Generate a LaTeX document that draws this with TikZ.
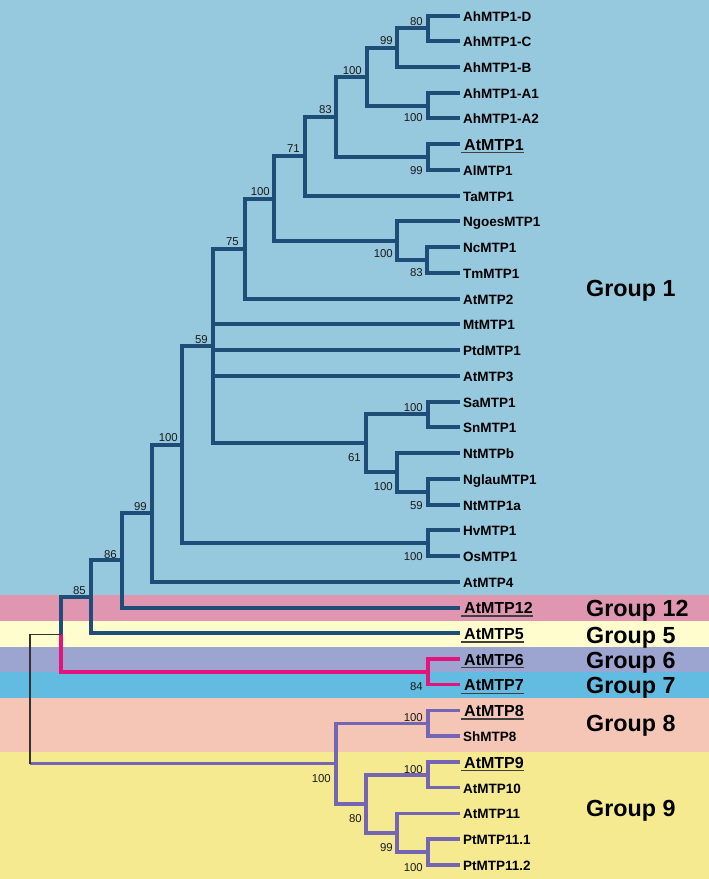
\documentclass[tikz,border=0pt]{standalone}
\usepackage{fontspec}
\setmainfont{Liberation Sans}
\definecolor{bgA}{HTML}{96C8DE}
\definecolor{bgPink}{HTML}{E096B0}
\definecolor{bgLY}{HTML}{FFFCCD}
\definecolor{bgLav}{HTML}{9BA5CF}
\definecolor{bgCyan}{HTML}{62BBE0}
\definecolor{bgSal}{HTML}{F5C6B5}
\definecolor{bgYel}{HTML}{F6EA91}
\definecolor{lnBlue}{HTML}{1E4E78}
\definecolor{lnPink}{HTML}{E4147D}
\definecolor{lnPurp}{HTML}{7466B5}
\definecolor{txtDark}{HTML}{1A1A1A}
\newcommand{\ulab}[1]{\leavevmode\vtop{\hbox{\kern3bp #1}\kern1.6bp{\color{black!75}\hrule height 1.3bp}}}
\tikzset{
  blueline/.style={draw=lnBlue, line width=4bp, line join=miter},
  pinkline/.style={draw=lnPink, line width=3.5bp, line join=miter},
  purpline/.style={draw=lnPurp, line width=3.5bp, line join=miter},
  rootline/.style={draw=black!80, line width=1.2bp},
  leaf/.style={anchor=west, inner sep=0pt, xshift=3bp, yshift=-0.7bp, text=black,
    font=\bfseries\fontsize{13.5bp}{15bp}\selectfont, text height=9.6bp, text depth=0pt},
  uleaf/.style={anchor=west, inner sep=0pt, xshift=1bp, yshift=-0.5bp, text=black,
    font=\bfseries\fontsize{16bp}{18bp}\selectfont, text height=11.4bp, text depth=0pt},
  boot/.style={anchor=east, inner sep=0pt, text=txtDark,
    font=\fontsize{11.4bp}{13bp}\selectfont, text height=8.2bp, text depth=0pt},
  grp/.style={anchor=west, inner sep=0pt, text=black,
    font=\bfseries\fontsize{23.3bp}{26bp}\selectfont, text height=16.7bp, text depth=0pt},
}
\begin{document}
\begin{tikzpicture}[x=1bp, y=-1bp]
% background bands
\fill[bgA] (0,0) rectangle (709,595);
\fill[bgPink] (0,595) rectangle (709,621);
\fill[bgLY] (0,621) rectangle (709,647);
\fill[bgLav] (0,647) rectangle (709,672.3);
\fill[bgCyan] (0,672.3) rectangle (709,697.5);
\fill[bgSal] (0,697.5) rectangle (709,751.7);
\fill[bgYel] (0,751.7) rectangle (709,879);
\useasboundingbox (0,0) rectangle (709,879);

% leaf tips
\coordinate (t0) at (460,15.5);
\coordinate (t1) at (460,41.24);
\coordinate (t2) at (460,66.98);
\coordinate (t3) at (460,92.72);
\coordinate (t4) at (460,118.46);
\coordinate (t5) at (460,144.2);
\coordinate (t6) at (460,169.94);
\coordinate (t7) at (460,195.68);
\coordinate (t8) at (460,221.42);
\coordinate (t9) at (460,247.16);
\coordinate (t10) at (460,272.9);
\coordinate (t11) at (460,298.64);
\coordinate (t12) at (460,324.38);
\coordinate (t13) at (460,350.12);
\coordinate (t14) at (460,375.86);
\coordinate (t15) at (460,401.6);
\coordinate (t16) at (460,427.34);
\coordinate (t17) at (460,453.08);
\coordinate (t18) at (460,478.82);
\coordinate (t19) at (460,504.56);
\coordinate (t20) at (460,530.3);
\coordinate (t21) at (460,556.04);
\coordinate (t22) at (460,581.78);
\coordinate (t23) at (460,607.52);
\coordinate (t24) at (460,633.26);
\coordinate (t25) at (460,659.0);
\coordinate (t26) at (460,684.74);
\coordinate (t27) at (460,710.48);
\coordinate (t28) at (460,736.22);
\coordinate (t29) at (460,761.96);
\coordinate (t30) at (460,787.7);
\coordinate (t31) at (460,813.44);
\coordinate (t32) at (460,839.18);
\coordinate (t33) at (460,864.92);

% internal nodes
\coordinate (nDC) at (428,28.37);
\coordinate (n99a) at (397,47.675);
\coordinate (nA12) at (428,105.59);
\coordinate (nAh) at (367,76.63);
\coordinate (nAtAl) at (428,157.07);
\coordinate (n83) at (336,116.85);
\coordinate (n71) at (305,156.27);
\coordinate (nNcTm) at (427,260.03);
\coordinate (nNg) at (397,240.73);
\coordinate (n100b) at (274,198.5);
\coordinate (n75) at (245,248.57);
\coordinate (nSaSn) at (428,414.47);
\coordinate (nNgNt) at (428,491.69);
\coordinate (nNt) at (397,472.39);
\coordinate (n61) at (366,443.43);
\coordinate (n59) at (213,346.0);
\coordinate (nHvOs) at (428,543.17);
\coordinate (n100c) at (182,444.59);
\coordinate (n99b) at (152,513.18);
\coordinate (n86) at (122,560.35);
\coordinate (n85) at (91,596.81);
\coordinate (n67) at (428,671.87);
\coordinate (nBP) at (61,634.34);
\coordinate (n8) at (428,723.35);
\coordinate (n910) at (428,774.83);
\coordinate (nPt) at (428,852.05);
\coordinate (n99c) at (397,832.75);
\coordinate (n80) at (366,803.79);
\coordinate (nP) at (336,763.57);
\coordinate (root) at (30,700);

% blue clade
\draw[blueline] (nDC) |- (t0);
\draw[blueline] (nDC) |- (t1);
\draw[blueline] (n99a) |- (nDC);
\draw[blueline] (n99a) |- (t2);
\draw[blueline] (nA12) |- (t3);
\draw[blueline] (nA12) |- (t4);
\draw[blueline] (nAh) |- (n99a);
\draw[blueline] (nAh) |- (nA12);
\draw[blueline] (nAtAl) |- (t5);
\draw[blueline] (nAtAl) |- (t6);
\draw[blueline] (n83) |- (nAh);
\draw[blueline] (n83) |- (nAtAl);
\draw[blueline] (n71) |- (n83);
\draw[blueline] (n71) |- (t7);
\draw[blueline] (nNcTm) |- (t9);
\draw[blueline] (nNcTm) |- (t10);
\draw[blueline] (nNg) |- (t8);
\draw[blueline] (nNg) |- (nNcTm);
\draw[blueline] (n100b) |- (n71);
\draw[blueline] (n100b) |- (nNg);
\draw[blueline] (n75) |- (n100b);
\draw[blueline] (n75) |- (t11);
\draw[blueline] (nSaSn) |- (t15);
\draw[blueline] (nSaSn) |- (t16);
\draw[blueline] (nNgNt) |- (t18);
\draw[blueline] (nNgNt) |- (t19);
\draw[blueline] (nNt) |- (t17);
\draw[blueline] (nNt) |- (nNgNt);
\draw[blueline] (n61) |- (nSaSn);
\draw[blueline] (n61) |- (nNt);
\draw[blueline] (n59) |- (n75);
\draw[blueline] (n59) |- (t12);
\draw[blueline] (n59) |- (t13);
\draw[blueline] (n59) |- (t14);
\draw[blueline] (n59) |- (n61);
\draw[blueline] (nHvOs) |- (t20);
\draw[blueline] (nHvOs) |- (t21);
\draw[blueline] (n100c) |- (n59);
\draw[blueline] (n100c) |- (nHvOs);
\draw[blueline] (n99b) |- (n100c);
\draw[blueline] (n99b) |- (t22);
\draw[blueline] (n86) |- (n99b);
\draw[blueline] (n86) |- (t23);
\draw[blueline] (n85) |- (n86);
\draw[blueline] (n85) |- (t24);
\draw[blueline] (nBP) |- (n85);
% pink clade
\draw[pinkline] (n67) |- (t25);
\draw[pinkline] (n67) |- (t26);
\draw[pinkline] (nBP) |- (n67);
% purple clade
\draw[purpline] (n8) |- (t27);
\draw[purpline] (n8) |- (t28);
\draw[purpline] (n910) |- (t29);
\draw[purpline] (n910) |- (t30);
\draw[purpline] (nPt) |- (t32);
\draw[purpline] (nPt) |- (t33);
\draw[purpline] (n99c) |- (t31);
\draw[purpline] (n99c) |- (nPt);
\draw[purpline] (n80) |- (n910);
\draw[purpline] (n80) |- (n99c);
\draw[purpline] (nP) |- (n8);
\draw[purpline] (nP) |- (n80);
% root
\draw[purpline] (root |- nP) -- (nP);
\draw[rootline] (root) |- (nBP);
\draw[rootline] (root) |- ([xshift=0.5bp]root |- nP);

% leaf labels
\node[leaf] (l0) at (t0) {AhMTP1-D};
\node[leaf] (l1) at (t1) {AhMTP1-C};
\node[leaf] (l2) at (t2) {AhMTP1-B};
\node[leaf] (l3) at (t3) {AhMTP1-A1};
\node[leaf] (l4) at (t4) {AhMTP1-A2};
\node[uleaf] (l5) at (t5) {\ulab{AtMTP1}};
\node[leaf] (l6) at (t6) {AlMTP1};
\node[leaf] (l7) at (t7) {TaMTP1};
\node[leaf] (l8) at (t8) {NgoesMTP1};
\node[leaf] (l9) at (t9) {NcMTP1};
\node[leaf] (l10) at (t10) {TmMTP1};
\node[leaf] (l11) at (t11) {AtMTP2};
\node[leaf] (l12) at (t12) {MtMTP1};
\node[leaf] (l13) at (t13) {PtdMTP1};
\node[leaf] (l14) at (t14) {AtMTP3};
\node[leaf] (l15) at (t15) {SaMTP1};
\node[leaf] (l16) at (t16) {SnMTP1};
\node[leaf] (l17) at (t17) {NtMTPb};
\node[leaf] (l18) at (t18) {NglauMTP1};
\node[leaf] (l19) at (t19) {NtMTP1a};
\node[leaf] (l20) at (t20) {HvMTP1};
\node[leaf] (l21) at (t21) {OsMTP1};
\node[leaf] (l22) at (t22) {AtMTP4};
\node[uleaf] (l23) at (t23) {\ulab{AtMTP12}};
\node[uleaf] (l24) at (t24) {\ulab{AtMTP5}};
\node[uleaf] (l25) at (t25) {\ulab{AtMTP6}};
\node[uleaf] (l26) at (t26) {\ulab{AtMTP7}};
\node[uleaf] (l27) at (t27) {\ulab{AtMTP8}};
\node[leaf] (l28) at (t28) {ShMTP8};
\node[uleaf] (l29) at (t29) {\ulab{AtMTP9}};
\node[leaf] (l30) at (t30) {AtMTP10};
\node[leaf] (l31) at (t31) {AtMTP11};
\node[leaf] (l32) at (t32) {PtMTP11.1};
\node[leaf] (l33) at (t33) {PtMTP11.2};

% bootstrap values
\node[boot] (b1) at (423,21) {80};
\node[boot] (b2) at (393,40.5) {99};
\node[boot] (b3) at (362,70) {100};
\node[boot] (b4) at (423,117.5) {100};
\node[boot] (b5) at (332,109) {83};
\node[boot] (b6) at (423,170) {99};
\node[boot] (b7) at (300,148) {71};
\node[boot] (b8) at (270,191) {100};
\node[boot] (b9) at (239,241.5) {75};
\node[boot] (b10) at (393,253.5) {100};
\node[boot] (b11) at (423,272.5) {83};
\node[boot] (b12) at (208,339) {59};
\node[boot] (b13) at (423,407.5) {100};
\node[boot] (b14) at (178,437.5) {100};
\node[boot] (b15) at (361,457) {61};
\node[boot] (b16) at (393,486) {100};
\node[boot] (b17) at (423,505) {59};
\node[boot] (b18) at (423,556) {100};
\node[boot] (b19) at (147,506.5) {99};
\node[boot] (b20) at (117,554) {86};
\node[boot] (b21) at (86,590.5) {85};
\node[boot] (b22) at (423,686) {84};
\node[boot] (b23) at (423,717) {100};
\node[boot] (b24) at (331,778) {100};
\node[boot] (b25) at (423,769) {100};
\node[boot] (b26) at (362,818) {80};
\node[boot] (b27) at (393,847) {99};
\node[boot] (b28) at (423,867) {100};

% group labels
\node[grp] (g1) at (586,288.5) {Group 1};
\node[grp] (g12) at (586,608) {Group 12};
\node[grp] (g5) at (586,634.7) {Group 5};
\node[grp] (g6) at (586,660) {Group 6};
\node[grp] (g7) at (586,685) {Group 7};
\node[grp] (g8) at (586,723.5) {Group 8};
\node[grp] (g9) at (586,808) {Group 9};
\end{tikzpicture}
\end{document}
